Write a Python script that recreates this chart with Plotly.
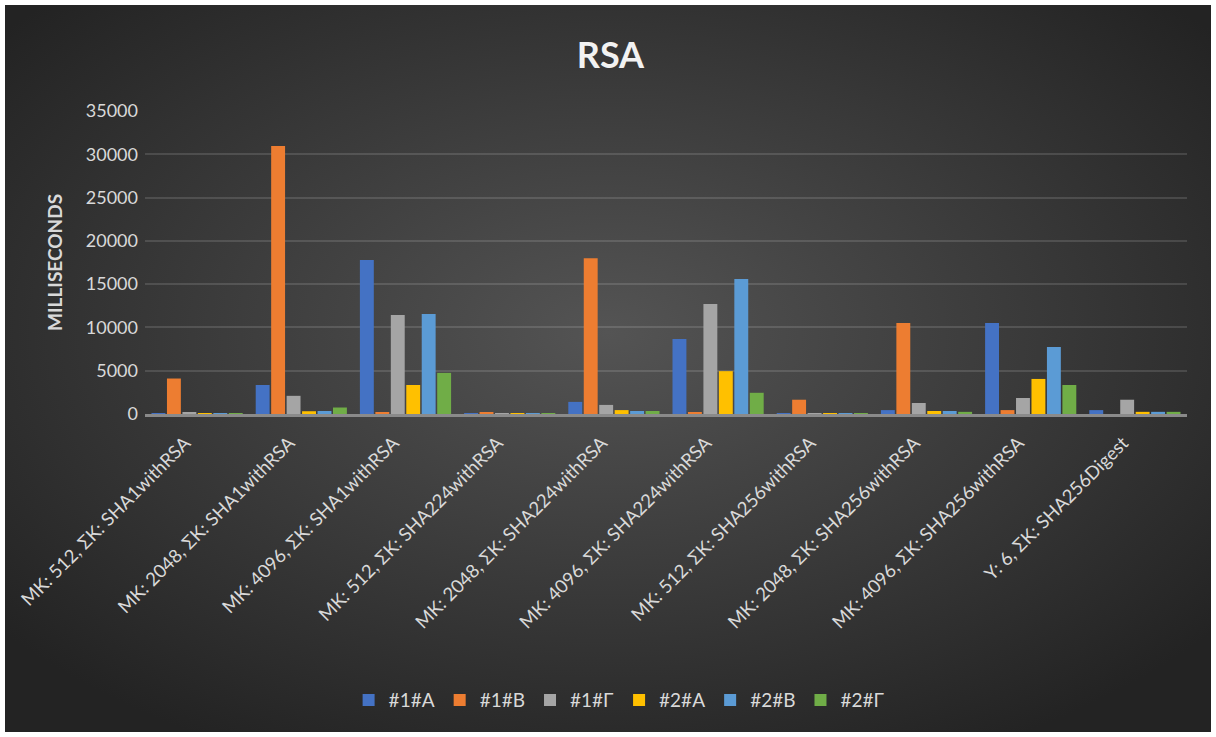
import plotly.graph_objects as go

categories = [
    "MK: 512, ΣK: SHA1withRSA",
    "MK: 2048, ΣK: SHA1withRSA",
    "MK: 4096, ΣK: SHA1withRSA",
    "MK: 512, ΣK: SHA224withRSA",
    "MK: 2048, ΣK: SHA224withRSA",
    "MK: 4096, ΣK: SHA224withRSA",
    "MK: 512, ΣK: SHA256withRSA",
    "MK: 2048, ΣK: SHA256withRSA",
    "MK: 4096, ΣK: SHA256withRSA",
    "Y: 6, ΣK: SHA256Digest",
]

s_1A = [60, 3350, 17800, 60, 1400, 8650, 60, 450, 10500, 450]
s_1B = [4100, 30950, 120, 200, 18000, 120, 1650, 10500, 450, 0]
s_1G = [120, 2100, 11450, 60, 1050, 12700, 60, 1270, 1850, 1650]
s_2A = [60, 320, 3350, 60, 450, 4950, 60, 350, 4050, 250]
s_2B = [60, 350, 11550, 60, 350, 15600, 60, 350, 7750, 250]
s_2G = [60, 750, 4750, 60, 350, 2450, 60, 250, 3350, 250]

series_names = ["#1#A", "#1#B", "#1#Γ", "#2#A", "#2#B", "#2#Γ"]
series_values = [s_1A, s_1B, s_1G, s_2A, s_2B, s_2G]
colors = ["#4472C4", "#ED7D31", "#A5A5A5", "#FFC000", "#5B9BD5", "#70AD47"]

y_ticks = [0, 5000, 10000, 15000, 20000, 25000, 30000, 35000]

W, H = 1216, 737
L, R, T, B = 145, 29, 111, 323

fig = go.Figure()
for name, vals, col in zip(series_names, series_values, colors):
    fig.add_trace(go.Bar(name=name, x=categories, y=vals, marker=dict(color=col, line=dict(width=0))))

pw = W - L - R
ph = H - T - B
x0 = (5 - L) / pw
x1 = (W - 5 - L) / pw
y1 = (H - 5 - B) / ph
y0 = -(B - 5) / ph

svg = ("data:image/svg+xml;utf8,<svg xmlns='http://www.w3.org/2000/svg' width='1206' height='727' "
       "viewBox='0 0 1206 727' preserveAspectRatio='none'><defs><radialGradient id='g' cx='0.5' cy='0.45' r='0.65'>"
       "<stop offset='0' stop-color='%23545454'/><stop offset='1' stop-color='%23232323'/></radialGradient></defs>"
       "<rect width='1206' height='727' fill='url(%23g)'/></svg>")

fig.add_layout_image(dict(source=svg, xref="paper", yref="paper", x=x0, y=y1,
                          sizex=x1 - x0, sizey=y1 - y0, sizing="stretch",
                          xanchor="left", yanchor="top", layer="below"))

fig.update_layout(
    width=W, height=H,
    margin=dict(l=L, r=R, t=T, b=B, autoexpand=False),
    paper_bgcolor="white",
    plot_bgcolor="rgba(0,0,0,0)",
    font=dict(family="Lato, sans-serif", color="#d9d9d9", size=18),
    title=dict(text="<b>RSA</b>", x=0.502, xanchor="center", xref="container", y=0.925, yanchor="middle",
               font=dict(size=36, color="#f2f2f2")),
    barmode="group",
    bargap=0.11,
    bargroupgap=0.1,
    showlegend=True,
    legend=dict(orientation="h", x=0.455, xanchor="center", y=-0.944, yanchor="middle",
                font=dict(size=19, color="#d9d9d9"), bgcolor="rgba(0,0,0,0)",
                itemwidth=30, traceorder="normal"),
    xaxis=dict(tickangle=-45, tickfont=dict(size=18.5, color="#d9d9d9"), showgrid=False,
               showline=True, linecolor="#8a8a8a", linewidth=3, ticks="", automargin=False,
               ticklabelshift=-12, ticklabelstandoff=8),
    yaxis=dict(range=[0, 35000], tickvals=y_ticks, ticktext=[str(v) for v in y_ticks],
               showgrid=True, gridcolor="rgba(255,255,255,0.13)", gridwidth=2,
               zeroline=False, showline=False, ticks="", ticklabelstandoff=6,
               tickfont=dict(size=18, color="#d9d9d9"), automargin=False,
               title=dict(text="<b>MILLISECONDS</b>", font=dict(size=19, color="#d9d9d9"), standoff=18)),
)

fig.write_html("out.html")
